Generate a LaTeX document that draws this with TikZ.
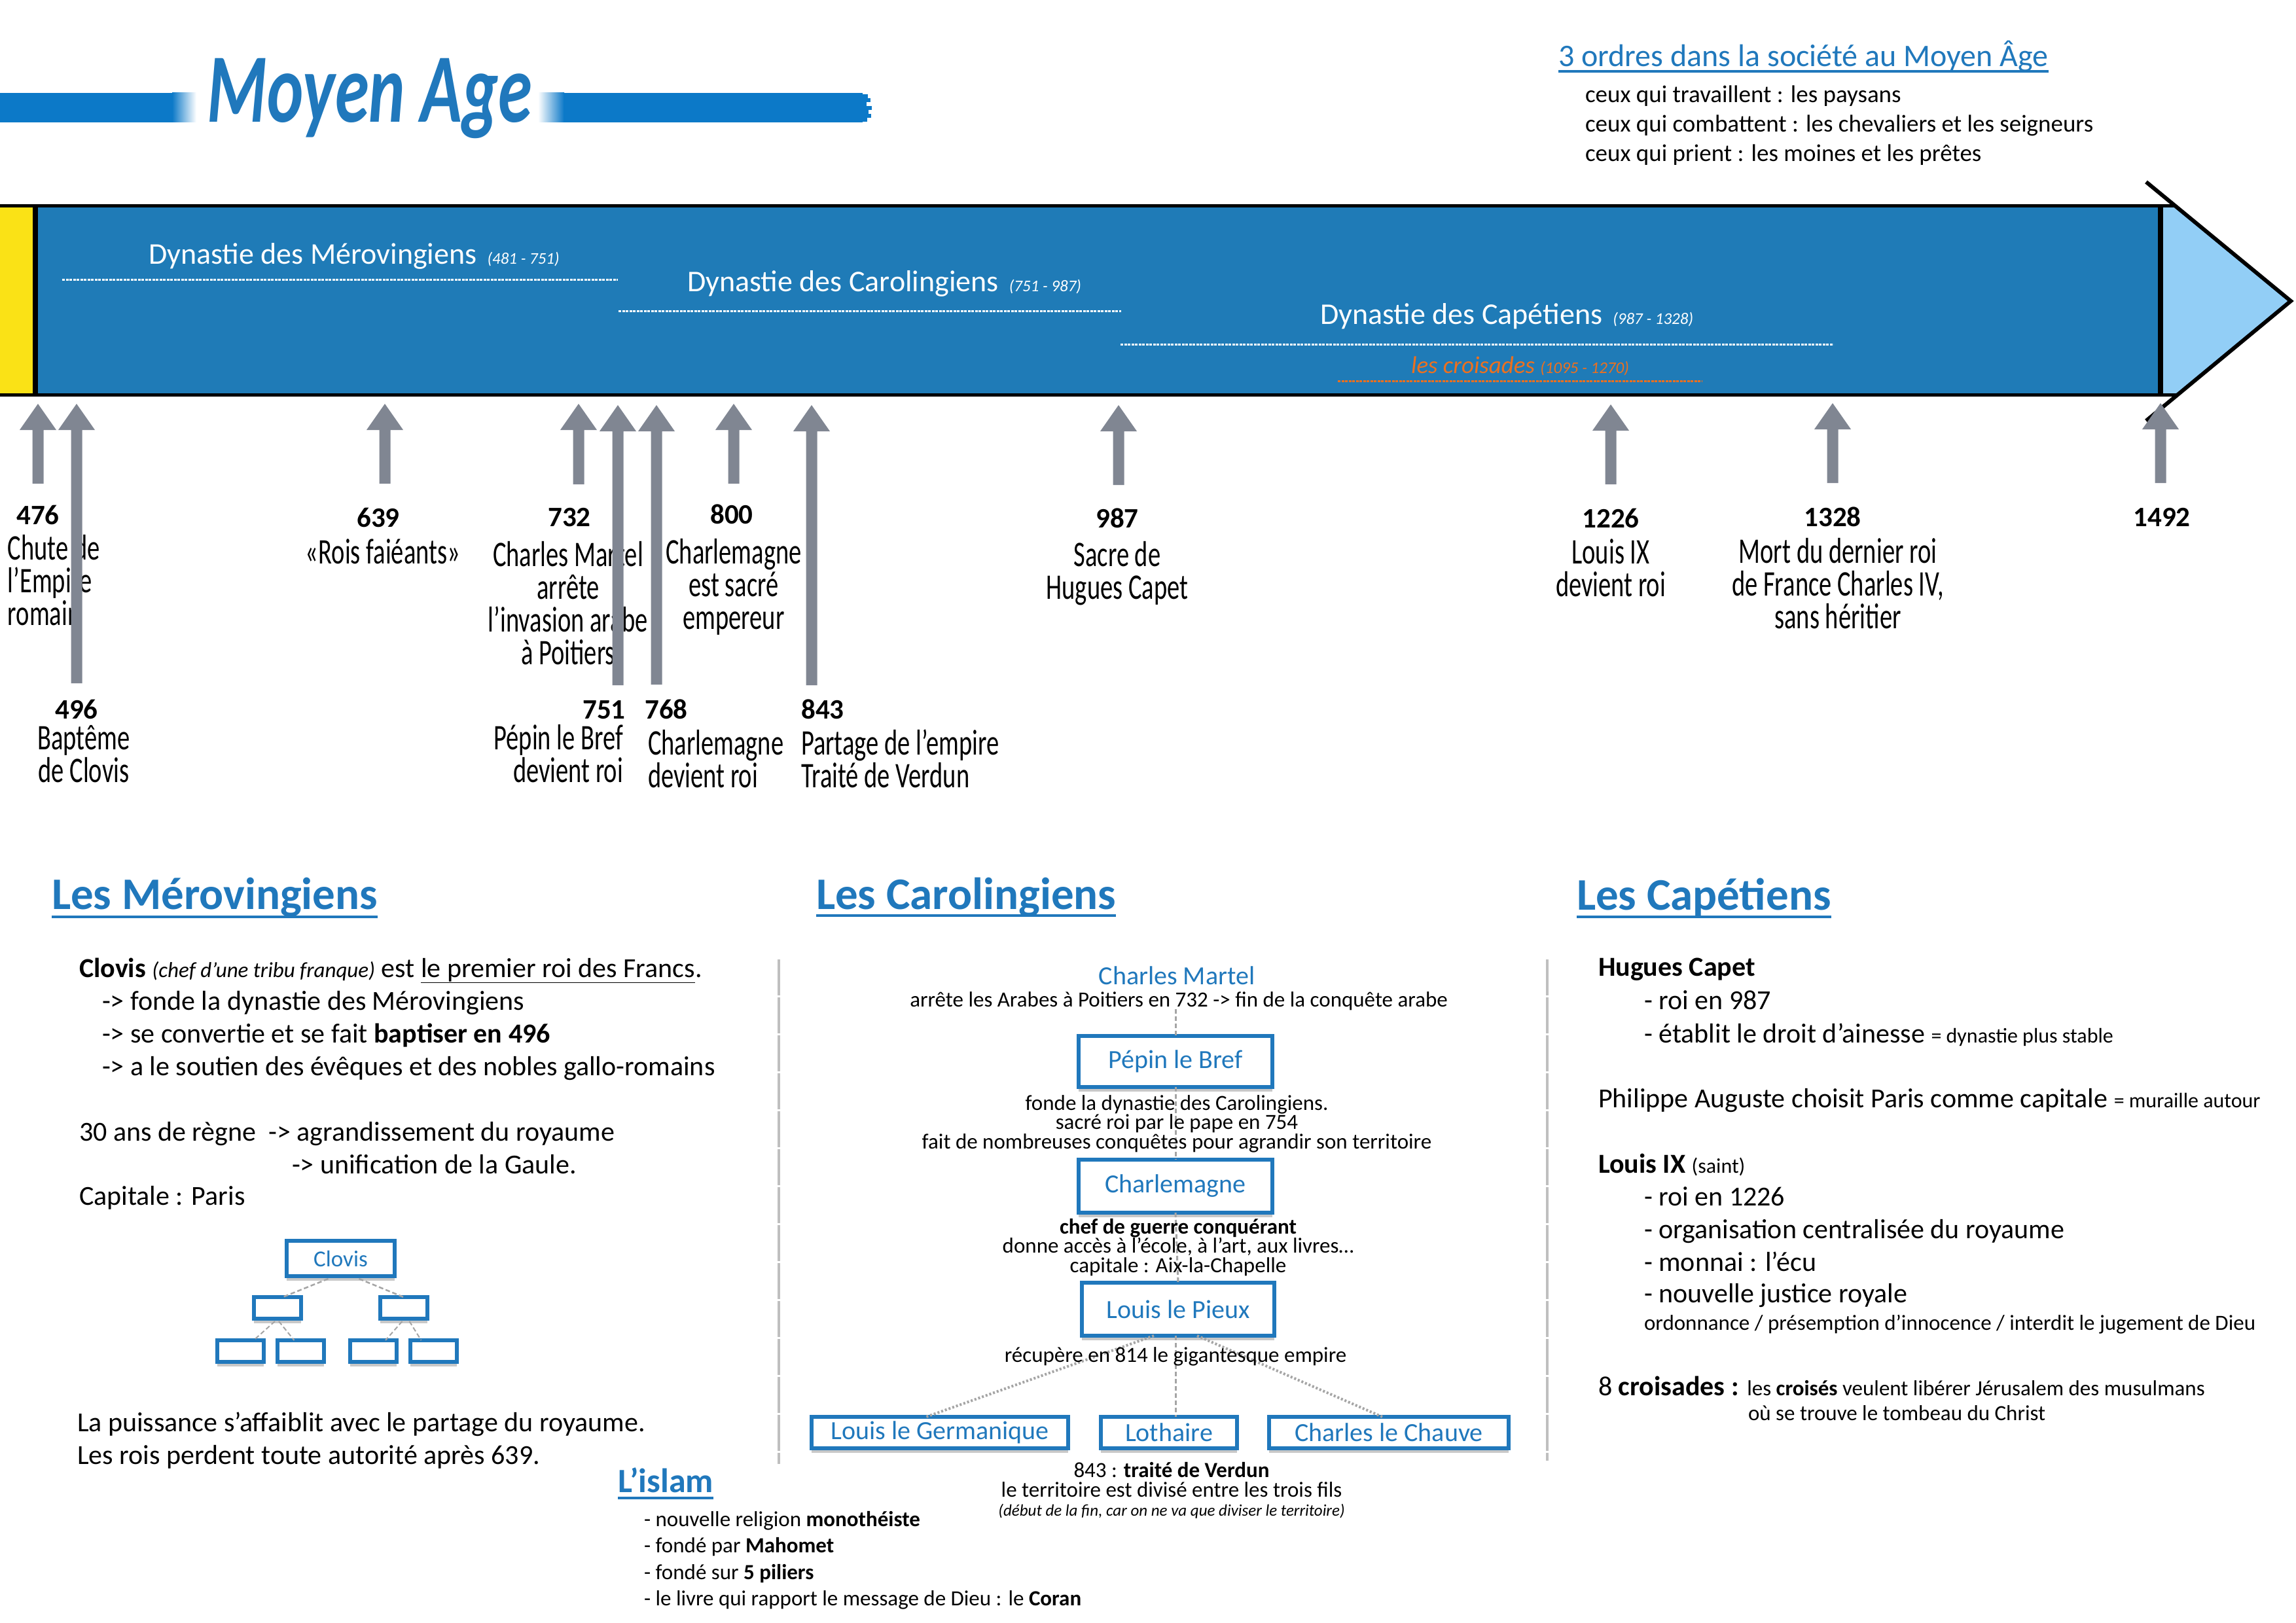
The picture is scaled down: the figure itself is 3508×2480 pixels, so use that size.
\documentclass[tikz,border=0pt]{standalone}
\usepackage{fontspec}
\setmainfont{Carlito}
\newfontfamily\handf[FakeStretch=0.7]{Carlito}
\newfontfamily\titlef[FakeStretch=0.7]{Carlito}
\usetikzlibrary{shadows}
\definecolor{bandblue}{RGB}{31,123,183}
\definecolor{lightblue}{RGB}{146,206,246}
\definecolor{hblue}{RGB}{32,120,188}
\definecolor{barblue}{RGB}{12,121,200}
\definecolor{agray}{RGB}{128,134,146}
\definecolor{orangec}{RGB}{237,112,30}
\definecolor{yellowc}{RGB}{250,226,22}
\definecolor{cgray}{RGB}{165,165,165}
\newcommand\fs[1]{\fontsize{#1}{#1}\selectfont}
\newcommand\tlarrow[3]{\fill[agray] (#1,#2) -- ({#1+28},{#2+40}) -- ({#1+8.5},{#2+40}) -- ({#1+8.5},#3) -- ({#1-8.5},#3) -- ({#1-8.5},{#2+40}) -- ({#1-28},{#2+40}) -- cycle;}
\begin{document}
\begin{tikzpicture}[x=1pt,y=-1pt,
  every node/.style={inner sep=0pt,outer sep=0pt},
  hand/.style={font=\handf\fontsize{55}{50}\selectfont,align=center,anchor=base},
  datel/.style={font=\bfseries\fs{43},anchor=base},
  dyn/.style={font=\fs{46},text=white,anchor=base west},
  body/.style={font=\fontsize{42}{50}\selectfont,anchor=base west},
  ctext/.style={font=\fontsize{33}{29.5}\selectfont,align=center,anchor=base},
  sechead/.style={font=\bfseries\fs{69},text=hblue,anchor=base west},
  bluebox/.style={draw=hblue,line width=6pt,fill=white,text=hblue,font=\fs{40},drop shadow={shadow xshift=0pt,shadow yshift=-7pt,opacity=0.3,fill=black!70}},
  wdash/.style={draw=white,line width=3pt,dash pattern=on 4pt off 1.5pt},
  conn/.style={draw=cgray,line width=3pt,dash pattern=on 7pt off 4pt},
  dconn/.style={draw=cgray,line width=4pt,dash pattern=on 3pt off 3pt},
  sepline/.style={draw=black!25,line width=4pt,dash pattern=on 55pt off 3pt},
]
\useasboundingbox (0,0) rectangle (3508,2480);
\fill[white] (0,0) rectangle (3508,2480);

% ---------- title bars ----------
\fill[barblue] (0,142) rectangle (264,187);
\shade[left color=barblue,right color=white] (263,142) rectangle (300,187);
\shade[left color=white,right color=barblue] (822,142) rectangle (862,187);
\fill[barblue] (861,142) rectangle (1318,187);
\foreach \yy/\ll in {144/8,150/12,156/6,162/14,168/9,174/13,180/7}{\fill[barblue] (1317,\yy) rectangle ({1318+\ll},{\yy+6});}
\node[font=\titlef\bfseries\itshape\fs{150},text=hblue,anchor=base] (title) at (565,187) {Moyen Age};

% ---------- 3 ordres ----------
\node[font=\fs{48},text=hblue,anchor=base west] (ordres) at (2381,102) {3 ordres dans la société au Moyen Âge};
\draw[hblue,line width=4pt] ([yshift=-7pt]ordres.base west) -- ([yshift=-7pt]ordres.base east);
\node[font=\fs{37},anchor=base west] (o1) at (2422,157) {ceux qui travaillent : les paysans};
\node[font=\fs{37},anchor=base west] (o2) at (2422,202) {ceux qui combattent : les chevaliers et les seigneurs};
\node[font=\fs{37},anchor=base west] (o3) at (2422,247) {ceux qui prient : les moines et les prêtes};

% ---------- band ----------
\fill[yellowc] (0,316) rectangle (54,602);
\fill[bandblue] (54,316) rectangle (3301,602);
\fill[lightblue] (3301,316) -- (3325,316) -- (3500,460) -- (3325,603) -- (3301,603) -- cycle;
\draw[line width=5pt] (0,315) -- (3325,315);
\draw[line width=5pt] (0,603) -- (3325,603);
\draw[line width=8pt] (54,313) -- (54,605);
\draw[line width=8pt] (3301,313) -- (3301,605);
\draw[line width=6pt,line join=miter] (3279,278) -- (3500,460) -- (3279,643);

\node[dyn] (dm) at (227,403) {Dynastie des Mérovingiens {\itshape\fs{25} (481 - 751)}};
\draw[wdash] (95,427) -- (944,427);
\node[dyn] (dc) at (1050,445) {Dynastie des Carolingiens {\itshape\fs{25} (751 - 987)}};
\draw[wdash] (945,475) -- (1713,475);
\node[dyn] (dp) at (2017,495) {Dynastie des Capétiens {\itshape\fs{25} (987 - 1328)}};
\draw[wdash] (1712,526) -- (2801,526);
\node[font=\itshape\fs{37},text=orangec,anchor=base west] (cr) at (2156,570) {les croisades {\fs{25}(1095 - 1270)}};
\draw[orangec,line width=3pt,dash pattern=on 4pt off 1.5pt] (2044,582) -- (2600,582);

% ---------- timeline labels (base = last line) ----------
\node[datel] (d476) at (58,801) {476};
\node[hand,align=left,anchor=base west] (t476) at (12,955) {Chute de\\l’Empire\\romain};
\node[datel] (d496) at (117,1098) {496};
\node[hand] (t496) at (128,1195) {Baptême\\de Clovis};
\node[datel] (d639) at (578,805) {639};
\node[hand] (t639) at (585,861) {«Rois faiéants»};
\node[datel] (d732) at (870,804) {732};
\node[hand] (t732) at (868,1015) {Charles Martel\\arrête\\l’invasion arabe\\à Poitiers};
\node[datel] (d800) at (1118,800) {800};
\node[hand] (t800) at (1121,961) {Charlemagne\\est sacré\\empereur};
\node[datel] (d751) at (923,1098) {751};
\node[hand,align=right,anchor=base east] (t751) at (952,1195) {Pépin le Bref\\devient roi};
\node[datel] (d768) at (1018,1098) {768};
\node[hand,align=left,anchor=base west] (t768) at (990,1203) {Charlemagne\\devient roi};
\node[datel] (d843) at (1257,1098) {843};
\node[hand,align=left,anchor=base west] (t843) at (1224,1203) {Partage de l’empire\\Traité de Verdun};
\node[datel] (d987) at (1707,806) {987};
\node[hand] (t987) at (1707,915) {Sacre de\\Hugues Capet};
\node[datel] (d1226) at (2461,806) {1226};
\node[hand] (t1226) at (2461,911) {Louis IX\\devient roi};
\node[datel] (d1328) at (2800,804) {1328};
\node[hand] (t1328) at (2808,960) {Mort du dernier roi\\de France Charles IV,\\sans héritier};
\node[datel] (d1492) at (3303,804) {1492};

% ---------- timeline arrows ----------
\tlarrow{58}{617}{739}
\tlarrow{588}{617}{739}
\tlarrow{884}{617}{740}
\tlarrow{1121}{617}{739}
\tlarrow{1709}{619}{741}
\tlarrow{2461}{618}{740}
\tlarrow{2800}{616}{738}
\tlarrow{3301}{616}{738}
\tlarrow{117}{617}{1044}
\tlarrow{944}{619}{1047}
\tlarrow{1003}{619}{1046}
\tlarrow{1240}{619}{1047}

% ---------- separators ----------
\draw[sepline] (1190,1466) -- (1190,2237);
\draw[sepline] (2364,1466) -- (2364,2232);

% ---------- Merovingiens ----------
\node[sechead] (hm) at (79,1389) {Les Mérovingiens};
\draw[hblue,line width=4pt] ([yshift=-12pt]hm.base west) -- ([yshift=-12pt]hm.base east);
\node[body] (m1) at (121,1493) {{\bfseries Clovis} {\itshape\fs{33}(chef d’une tribu franque)} est \underline{le premier roi des Francs}.};
\node[body] (m2) at (156,1543) {-> fonde la dynastie des Mérovingiens};
\node[body] (m3) at (156,1593) {-> se convertie et se fait {\bfseries baptiser en 496}};
\node[body] (m4) at (156,1643) {-> a le soutien des évêques et des nobles gallo-romains};
\node[body] (m5) at (121,1743) {30 ans de règne\ \ -> agrandissement du royaume};
\node[body] (m6) at (446,1793) {-> unification de la Gaule.};
\node[body] (m7) at (121,1841) {Capitale : Paris};
\node[body] (m8) at (118,2187) {La puissance s’affaiblit avec le partage du royaume.};
\node[body] (m9) at (118,2237) {Les rois perdent toute autorité après 639.};

\node[bluebox,font=\fs{35},minimum width=165pt,minimum height=54pt] (clovis) at (520.5,1923) {Clovis};
\node[bluebox,minimum width=72pt,minimum height=33pt] (ka) at (424,1998.5) {};
\node[bluebox,minimum width=72pt,minimum height=33pt] (kb) at (616.5,1998.5) {};
\node[bluebox,minimum width=71pt,minimum height=33pt] (ka1) at (367.5,2064.5) {};
\node[bluebox,minimum width=71pt,minimum height=33pt] (ka2) at (459.5,2064.5) {};
\node[bluebox,minimum width=71pt,minimum height=33pt] (kb1) at (570,2064.5) {};
\node[bluebox,minimum width=71pt,minimum height=33pt] (kb2) at (662.5,2064.5) {};
\draw[conn,line width=2.5pt] ([xshift=-19pt,yshift=-4pt]clovis.south) -- ([xshift=8pt]ka.north);
\draw[conn,line width=2.5pt] ([xshift=28pt,yshift=-4pt]clovis.south) -- (kb.north);
\draw[conn,line width=2pt] ([xshift=-4pt,yshift=-4pt]ka.south) -- ([xshift=20pt]ka1.north);
\draw[conn,line width=2pt] ([xshift=2pt,yshift=-4pt]ka.south) -- ([xshift=-10pt]ka2.north);
\draw[conn,line width=2pt] ([xshift=-2pt,yshift=-4pt]kb.south) -- ([xshift=19pt]kb1.north);
\draw[conn,line width=2pt] ([xshift=9pt,yshift=-4pt]kb.south) -- ([xshift=-19pt]kb2.north);

% ---------- Carolingiens ----------
\node[sechead] (hc) at (1247,1389) {Les Carolingiens};
\draw[hblue,line width=4pt] ([yshift=-10pt]hc.base west) -- ([yshift=-10pt]hc.base east);
\node[font=\fs{40},text=hblue,anchor=base] (cm) at (1798,1504) {Charles Martel};
\node[ctext] (cmt) at (1801,1538) {arrête les Arabes à Poitiers en 732 -> fin de la conquête arabe};
\node[bluebox,minimum width=296pt,minimum height=78pt] (pepin) at (1796,1622) {Pépin le Bref};
\node[bluebox,minimum width=296pt,minimum height=81pt] (charl) at (1796,1812.5) {Charlemagne};
\node[bluebox,minimum width=294pt,minimum height=81pt] (lp) at (1800,2000.5) {Louis le Pieux};
\node[bluebox,minimum width=392pt,minimum height=48pt] (lg) at (1436,2189) {Louis le Germanique};
\node[bluebox,minimum width=208pt,minimum height=48pt] (loth) at (1786,2189) {Lothaire};
\node[bluebox,minimum width=366pt,minimum height=48pt] (cc) at (2122,2189) {Charles le Chauve};
\draw[conn] ([yshift=-4pt]pepin.north |- cmt.base) -- (pepin.north);
\draw[conn] (pepin.south) -- (charl.north);
\draw[conn] (charl.south) -- (lp.north);
\draw[dconn] ([xshift=-37pt]lp.south) -- ([xshift=-21pt]lg.north);
\draw[conn] ([xshift=-4pt]lp.south) -- ([xshift=10pt]loth.north);
\draw[dconn] ([xshift=29pt]lp.south) -- ([xshift=-10pt]cc.north);
\node[ctext] (pt) at (1798,1755) {fonde la dynastie des Carolingiens.\\sacré roi par le pape en 754\\fait de nombreuses conquêtes pour agrandir son territoire};
\node[ctext] (ct) at (1800,1944) {{\bfseries chef de guerre conquérant}\\donne accès à l’école, à l’art, aux livres…\\capitale : Aix-la-Chapelle};
\node[ctext] (lt) at (1796,2081) {récupère en 814 le gigantesque empire};
\node[ctext] (vt) at (1790,2287) {843 : {\bfseries traité de Verdun}\\le territoire est divisé entre les trois fils};
\node[font=\itshape\fs{25},anchor=base] (vt2) at (1790,2316) {(début de la fin, car on ne va que diviser le territoire)};

% ---------- L'islam ----------
\node[font=\bfseries\fs{52},text=hblue,anchor=base west] (hi) at (944,2280) {L’islam};
\draw[hblue,line width=4pt] ([yshift=-9pt]hi.base west) -- ([yshift=-9pt]hi.base east);
\node[font=\fs{33},anchor=base west] (i1) at (984,2332) {- nouvelle religion {\bfseries monothéiste}};
\node[font=\fs{33},anchor=base west] (i2) at (984,2372) {- fondé par {\bfseries Mahomet}};
\node[font=\fs{33},anchor=base west] (i3) at (984,2413) {- fondé sur {\bfseries 5 piliers}};
\node[font=\fs{33},anchor=base west] (i4) at (984,2453) {- le livre qui rapport le message de Dieu : le {\bfseries Coran}};

% ---------- Capetiens ----------
\node[sechead] (hp) at (2409,1390) {Les Capétiens};
\draw[hblue,line width=4pt] ([yshift=-11pt]hp.base west) -- ([yshift=-11pt]hp.base east);
\node[body] (p1) at (2442,1491) {\bfseries Hugues Capet};
\node[body] (p2) at (2512,1542) {- roi en 987};
\node[body] (p3) at (2512,1593) {- établit le droit d’ainesse {\fs{32}= dynastie plus stable}};
\node[body] (p4) at (2442,1692) {Philippe Auguste choisit Paris comme capitale {\fs{32}= muraille autour}};
\node[body] (p5) at (2442,1792) {{\bfseries Louis IX} {\fs{32}(saint)}};
\node[body] (p6) at (2512,1842) {- roi en 1226};
\node[body] (p7) at (2512,1892) {- organisation centralisée du royaume};
\node[body] (p8) at (2512,1942) {- monnai : l’écu};
\node[body] (p9) at (2512,1990) {- nouvelle justice royale};
\node[font=\fs{33},anchor=base west] (p10) at (2512,2032) {ordonnance / présemption d’innocence / interdit le jugement de Dieu};
\node[body] (p11) at (2442,2132) {8 {\bfseries croisades :} {\fs{33}les {\bfseries croisés} veulent libérer Jérusalem des musulmans}};
\node[font=\fs{33},anchor=base west] (p12) at (2671,2170) {où se trouve le tombeau du Christ};
\end{tikzpicture}
\end{document}
